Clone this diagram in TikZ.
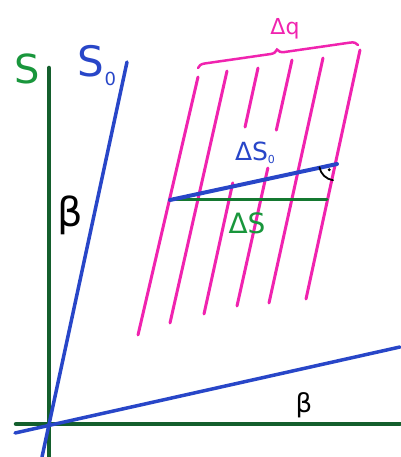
\documentclass[tikz,border=0pt]{standalone}
\usepackage{fontspec}
\setmainfont{DejaVu Sans}
\usetikzlibrary{decorations.pathreplacing,calc}
\definecolor{axg}{RGB}{20,95,45}
\definecolor{lg}{RGB}{25,150,60}
\definecolor{bl}{RGB}{40,70,200}
\definecolor{pk}{RGB}{240,35,175}

\begin{document}
\begin{tikzpicture}[x=1pt,y=1pt,line cap=round,
 ax/.style={draw=axg,line width=4.5pt},
 bln/.style={draw=bl,line width=3.5pt},
 pl/.style={draw=pk,line width=3pt},
 lbl/.style={inner sep=0pt,font=\fontsize{#1}{#1}\selectfont}]
\useasboundingbox (0,0) rectangle (400,457);
\draw[ax](49,389)--(49,0);\draw[ax](16,33)--(400,33);
\draw[bln](42,0)--(127,395);\draw[bln](15,24)--(400,110);
\foreach \n/\xa/\ya/\xb/\yb in {1/198/380/138/122,2/227/386/170/134,3/258/389/204/143,4/292/397/237/151,5/323/399/269/154,6/360/407/306/158}
 {\coordinate (t\n) at (\xa,\ya);\coordinate (b\n) at (\xb,\yb);}
\draw[pl](t1)--(b1);\draw[pl](t2)--(b2);\draw[pl](t5)--(b5);\draw[pl](t6)--(b6);
\draw[pl](t3)--($(t3)!0.24!(b3)$);\draw[pl]($(t3)!0.467!(b3)$)--(b3);
\draw[pl](t4)--($(t4)!0.285!(b4)$);\draw[pl]($(t4)!0.439!(b4)$)--(b4);
\draw[pk,line width=2.5pt,decorate,decoration={brace,amplitude=7pt}](198,389)--(358,412);
\coordinate (ds0a) at (170,257);\coordinate (ds0b) at (337,293);\coordinate (dsb) at (327,257);
\draw[draw=lg!80!black,line width=3pt](ds0a)--(dsb);
\draw[draw=bl,line width=4pt](ds0a)--(ds0b);
\coordinate (c) at (intersection of ds0a--ds0b and t6--b6);
\draw[line width=1.8pt]($(c)+(190:16)$) arc (190:262:16);
\fill ($(c)+(222:8)$) circle (1.6);
\node[lbl=40,text=lg] (S) at (27,388) {S};
\node[lbl=42,text=bl] (S0) at (97,391) {S\raisebox{-9pt}{\fontsize{18}{18}\selectfont 0}};
\node[lbl=40] (bv) at (70,242) {β};
\node[lbl=26] (bh) at (304,52) {β};
\node[lbl=22,text=pk] (dq) at (285,428) {Δq};
\node[lbl=25,text=bl] (dS0) at (255,304) {ΔS\raisebox{-3pt}{\fontsize{11}{11}\selectfont 0}};
\node[lbl=28,text=lg] (dS) at (247,234) {ΔS};
\end{tikzpicture}
\end{document}
